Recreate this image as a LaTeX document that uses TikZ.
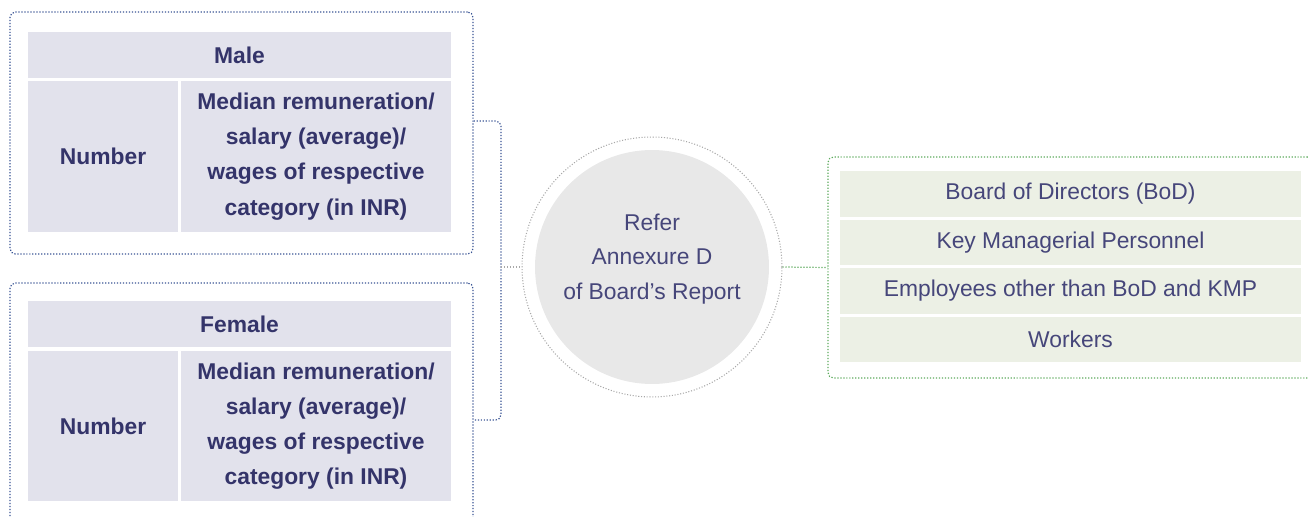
\documentclass[tikz,border=0pt]{standalone}
\usepackage{fontspec}
\setmainfont{Liberation Sans}
\usetikzlibrary{positioning}
\definecolor{tblnavy}{HTML}{34346A}
\definecolor{tblfill}{HTML}{E2E2EC}
\definecolor{catfill}{HTML}{ECF0E5}
\definecolor{circfill}{HTML}{E8E8E8}
\definecolor{dotblue}{HTML}{3A5595}
\definecolor{dotgreen}{HTML}{5DAA5D}
\definecolor{dotgray}{HTML}{A8A8A8}
\definecolor{lighttext}{HTML}{46467A}

\tikzset{
  boldtxt/.style={text=tblnavy, font=\fontsize{13}{20}\selectfont\bfseries, align=center, inner sep=0pt},
  hdcell/.style={boldtxt, fill=tblfill, minimum width=8.46cm, minimum height=0.92cm},
  numcell/.style={boldtxt, fill=tblfill, minimum width=3.0cm, minimum height=3.02cm},
  medcell/.style={boldtxt, fill=tblfill, minimum width=5.4cm, minimum height=3.02cm},
  catcell/.style={fill=catfill, text=lighttext, font=\fontsize{13}{20}\selectfont, inner sep=0pt, minimum width=9.22cm, minimum height=0.92cm},
  outerbox/.style={draw=dotblue, densely dotted, line width=0.7pt, rounded corners=3pt, inner sep=0pt, minimum width=9.26cm, minimum height=4.84cm},
  link/.style={densely dotted, line width=0.7pt}
}

\begin{document}
\begin{tikzpicture}[x=0.02cm, y=-0.02cm]
  \useasboundingbox (0,0) rectangle (1308,517);

  % Male table
  \node[outerbox] (maleBox) at (241.5,133) {};
  \node[hdcell] (maleHd) at (239.5,55) {Male};
  \node[numcell] (maleNum) at (103,156.5) {Number};
  \node[medcell] (maleMed) at (316,156.5) {Median remuneration/\\salary (average)/\\wages of respective\\category (in INR)};

  % Female table
  \node[outerbox] (femaleBox) at (241.5,404) {};
  \node[hdcell] (femaleHd) at (239.5,324) {Female};
  \node[numcell] (femaleNum) at (103,426) {Number};
  \node[medcell] (femaleMed) at (316,426) {Median remuneration/\\salary (average)/\\wages of respective\\category (in INR)};

  % bracket joining both tables
  \coordinate (brk) at (501,267);
  \draw[link, draw=dotblue, rounded corners=3pt] (maleBox.east |- 0,121) -| (brk) |- (femaleBox.east |- 0,420);

  % Centre circle
  \node[circle, fill=circfill, minimum size=4.68cm, inner sep=0pt] (circIn) at (652,267) {};
  \node[circle, draw=dotgray, densely dotted, line width=0.6pt, minimum size=5.2cm, inner sep=0pt] (circOut) at (652,267) {};
  \node[text=lighttext, font=\fontsize{13}{19.6}\selectfont, align=center] (refer) at (652,259) {Refer\\Annexure D\\of Board’s Report};
  \draw[link, draw=dotgray] (brk) -- (circOut.west);

  % Categories
  \node[draw=dotgreen, densely dotted, line width=0.7pt, rounded corners=3pt, inner sep=0pt, minimum width=9.7cm, minimum height=4.42cm] (catBox) at (1070.5,267.5) {};
  \node[catcell] (bod) at (1070.5,194) {Board of Directors (BoD)};
  \node[catcell] (kmp) at (1070.5,242.5) {Key Managerial Personnel};
  \node[catcell] (emp) at (1070.5,291) {Employees other than BoD and KMP};
  \node[catcell] (wrk) at (1070.5,339.5) {Workers};
  \draw[link, draw=dotgreen] (circOut.east) -- (catBox.west);
\end{tikzpicture}
\end{document}
